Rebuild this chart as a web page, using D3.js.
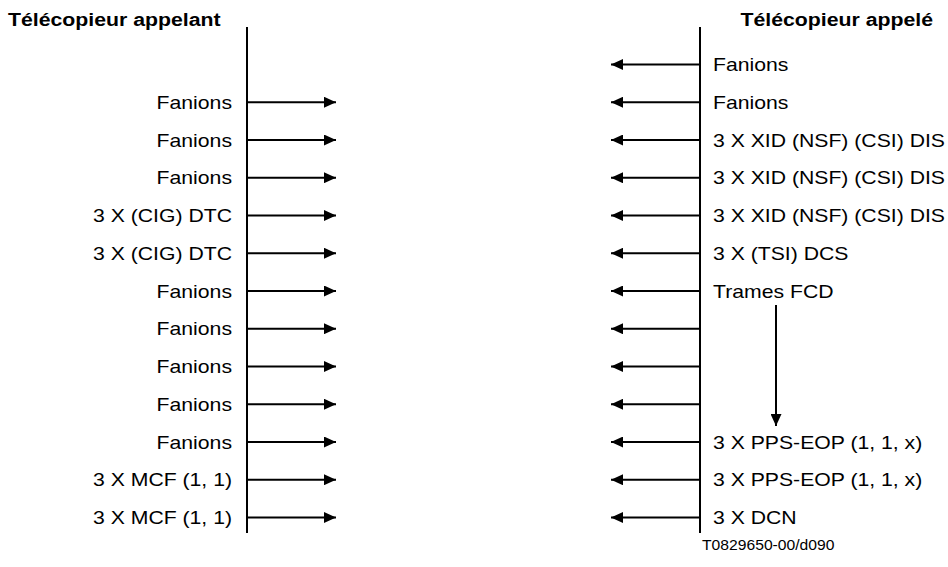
<!DOCTYPE html>
<html>
<head>
<meta charset="utf-8">
<script src="https://cdn.jsdelivr.net/npm/d3@7/dist/d3.min.js"></script>
<style>
  html, body { margin: 0; padding: 0; background: #fff; }
  svg { display: block; }
  text { font-family: "Liberation Sans", Arial, sans-serif; fill: #000; }
</style>
</head>
<body>
<svg id="chart" width="948" height="567"></svg>
<script>
// ---- Data ----
const leftTitle = "Télécopieur appelant";
const rightTitle = "Télécopieur appelé";
// row index 0..12 ; null = no message on that side
const leftLabels = [null, "Fanions", "Fanions", "Fanions", "3 X (CIG) DTC", "3 X (CIG) DTC",
  "Fanions", "Fanions", "Fanions", "Fanions", "Fanions", "3 X MCF (1, 1)", "3 X MCF (1, 1)"];
const rightLabels = ["Fanions", "Fanions", "3 X XID (NSF) (CSI) DIS", "3 X XID (NSF) (CSI) DIS",
  "3 X XID (NSF) (CSI) DIS", "3 X (TSI) DCS", "Trames FCD", "", "", "", "3 X PPS-EOP (1, 1, x)",
  "3 X PPS-EOP (1, 1, x)", "3 X DCN"];
const fcdArrow = { from: 6, to: 10 }; // vertical arrow from "Trames FCD" row down to PPS-EOP row
const footer = "T0829650-00/d090";

// ---- Layout ----
const svg = d3.select("#chart");
const rows = d3.range(rightLabels.length);
const y = d3.scaleLinear().domain([0, rows.length - 1]).range([64.5, 517.5]);
const x = d3.scaleLinear().domain([0, 1]).range([247, 700]); // 0 = caller lifeline, 1 = called lifeline
const fs = 18.2;    // glyph height
const sx = 1.165;   // the reference text is horizontally stretched

function stretchedText(sel, px, py, sxx) {
  return sel.attr("transform", (d, i) => {
    const X = typeof px === "function" ? px(d, i) : px;
    const Y = typeof py === "function" ? py(d, i) : py;
    return `translate(${X},${Y}) scale(${sxx},1)`;
  });
}

// arrow marker
const defs = svg.append("defs");
defs.append("marker").attr("id", "ah").attr("viewBox", "0 0 12 11")
  .attr("refX", 12).attr("refY", 5.5).attr("markerWidth", 12).attr("markerHeight", 11)
  .attr("markerUnits", "userSpaceOnUse").attr("orient", "auto")
  .append("path").attr("d", "M0,0 L12,5.5 L0,11 Z").attr("fill", "#000");

// titles
stretchedText(svg.append("text").attr("font-weight", "bold").attr("font-size", 18.5).text(leftTitle), 8, 26, 1.15);
stretchedText(svg.append("text").attr("font-weight", "bold").attr("text-anchor", "end")
  .attr("font-size", 18.5).text(rightTitle), 933, 26, 1.15);

// lifelines
[0, 1].forEach(s => {
  svg.append("line").attr("x1", x(s)).attr("x2", x(s))
    .attr("y1", 27).attr("y2", 533).attr("stroke", "#000").attr("stroke-width", 2);
});

// left messages
const L = rows.filter(i => leftLabels[i] !== null);
svg.selectAll(".la").data(L).join("line").attr("class", "la")
  .attr("x1", x(0)).attr("x2", x(0) + 89)
  .attr("y1", d => y(d)).attr("y2", d => y(d))
  .attr("stroke", "#000").attr("stroke-width", 1.8).attr("marker-end", "url(#ah)");
stretchedText(svg.selectAll(".lt").data(L).join("text").attr("class", "lt")
  .attr("text-anchor", "end").attr("font-size", fs).text(d => leftLabels[d]),
  x(0) - 15, d => y(d) + 6.5, sx);

// right messages
svg.selectAll(".ra").data(rows).join("line").attr("class", "ra")
  .attr("x1", x(1)).attr("x2", x(1) - 89)
  .attr("y1", d => y(d)).attr("y2", d => y(d))
  .attr("stroke", "#000").attr("stroke-width", 1.8).attr("marker-end", "url(#ah)");
stretchedText(svg.selectAll(".rt").data(rows).join("text").attr("class", "rt")
  .attr("font-size", fs).text(d => rightLabels[d]),
  x(1) + 13, d => y(d) + 6.5, sx);

// vertical FCD arrow
svg.append("line").attr("x1", 776).attr("x2", 776)
  .attr("y1", y(fcdArrow.from) + 14).attr("y2", y(fcdArrow.to) - 16)
  .attr("stroke", "#000").attr("stroke-width", 2).attr("marker-end", "url(#ah)");

// footer
stretchedText(svg.append("text").attr("font-size", 14).text(footer), 702, 550, 1.12);
</script>
</body>
</html>
